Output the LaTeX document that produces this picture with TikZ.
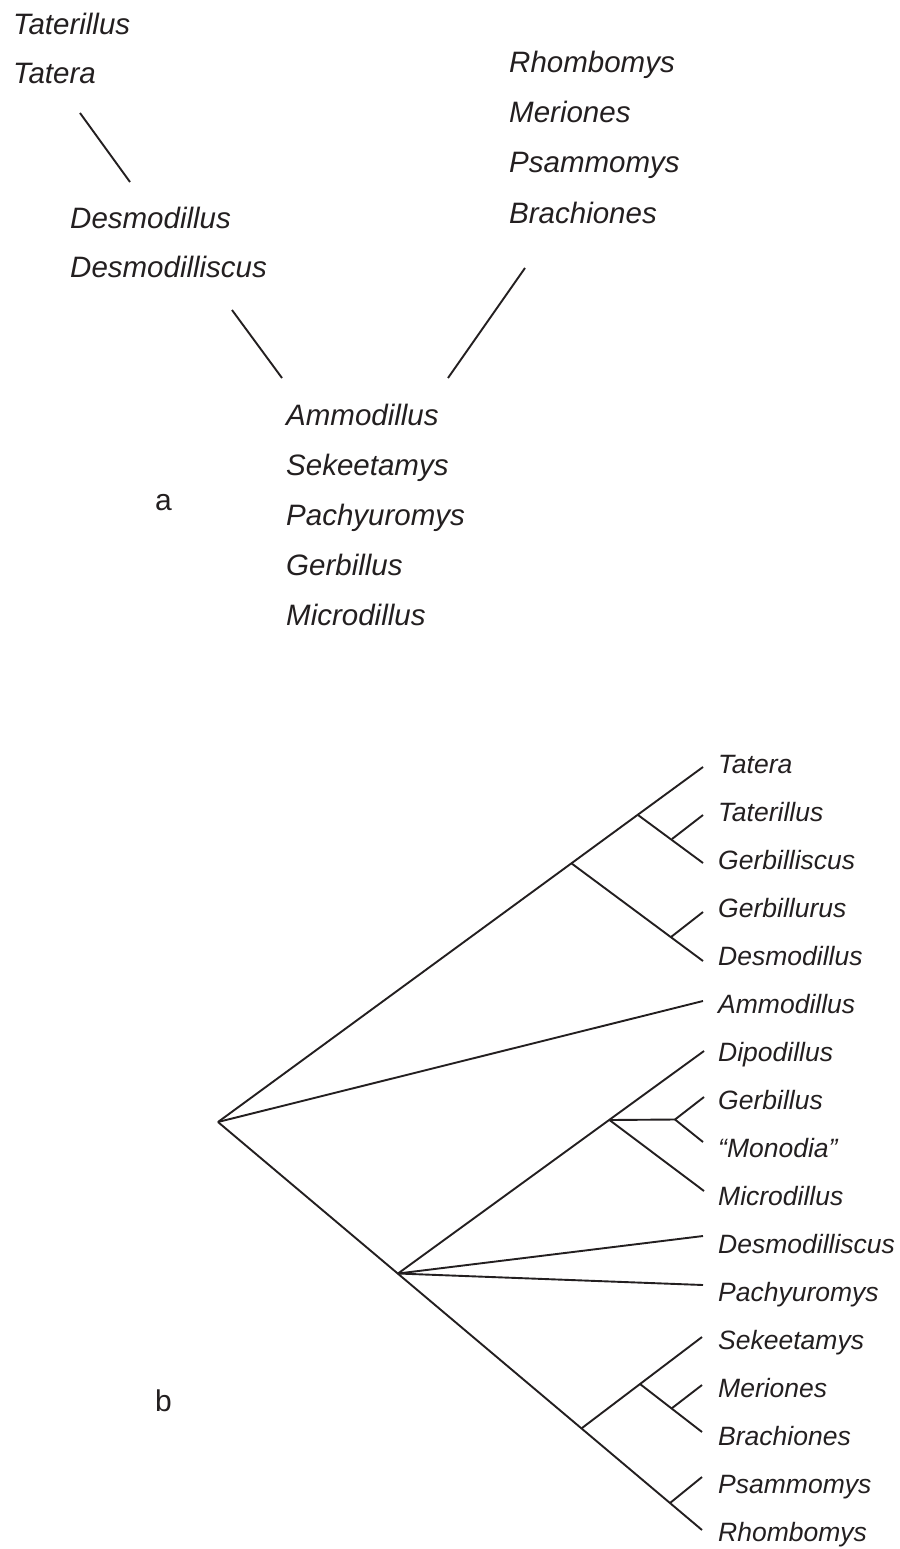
\documentclass[tikz,border=0pt]{standalone}
\usepackage{fontspec}
\setmainfont{Liberation Sans}
\definecolor{ink}{HTML}{231F20}
\begin{document}
\begin{tikzpicture}[x=1pt,y=-1pt,
  branch/.style={draw=ink, line width=1.9pt},
  taxa/.style={anchor=base west, inner sep=0pt, text=ink, font=\fontsize{29.5}{32}\selectfont\itshape},
  taxb/.style={anchor=base west, inner sep=0pt, text=ink, font=\fontsize{26.5}{30}\selectfont\itshape},
  panel/.style={anchor=base west, inner sep=0pt, text=ink, font=\fontsize{30}{32}\selectfont}]
\useasboundingbox (0,0) rectangle (899,1549);

% ---------- panel a: groups of genera ----------
\node[taxa] (a-taterillus) at (13,35) {Taterillus};
\node[taxa] (a-tatera) at (13,84) {Tatera};

\node[taxa] (a-desmodillus) at (70,229) {Desmodillus};
\node[taxa] (a-desmodilliscus) at (70,277) {Desmodilliscus};

\node[taxa] (a-rhombomys) at (509,73) {Rhombomys};
\node[taxa] (a-meriones) at (509,123) {Meriones};
\node[taxa] (a-psammomys) at (509,173) {Psammomys};
\node[taxa] (a-brachiones) at (509,223) {Brachiones};

\node[taxa] (a-ammodillus) at (286,425) {Ammodillus};
\node[taxa] (a-sekeetamys) at (286,475) {Sekeetamys};
\node[taxa] (a-pachyuromys) at (286,525) {Pachyuromys};
\node[taxa] (a-gerbillus) at (286,575) {Gerbillus};
\node[taxa] (a-microdillus) at (286,625) {Microdillus};

\node[panel] (label-a) at (155,510) {a};

% links between the groups
\coordinate (a1s) at (80,113);  \coordinate (a1e) at (130,182);
\coordinate (a2s) at (232,310); \coordinate (a2e) at (282,378);
\coordinate (a3s) at (525,268); \coordinate (a3e) at (448,378);
\draw[branch] (a1s) -- (a1e);
\draw[branch] (a2s) -- (a2e);
\draw[branch] (a3s) -- (a3e);

% ---------- panel b: tree ----------
\foreach \name/\txt [count=\i from 0] in {
  tatera/Tatera, taterillus/Taterillus, gerbilliscus/Gerbilliscus,
  gerbillurus/Gerbillurus, desmodillus/Desmodillus, ammodillus/Ammodillus,
  dipodillus/Dipodillus, gerbillus/Gerbillus, monodia/{``Monodia''},
  microdillus/Microdillus, desmodilliscus/Desmodilliscus,
  pachyuromys/Pachyuromys, sekeetamys/Sekeetamys, meriones/Meriones,
  brachiones/Brachiones, psammomys/Psammomys, rhombomys/Rhombomys}
  \node[taxb] (b-\name) at (718,{773+48.06*\i}) {\txt};

\node[panel] (label-b) at (155,1411) {b};

% tips
\coordinate (t-tatera) at (703,767);
\coordinate (t-taterillus) at (703,815);
\coordinate (t-gerbilliscus) at (703,863);
\coordinate (t-gerbillurus) at (703,912);
\coordinate (t-desmodillus) at (703,961);
\coordinate (t-ammodillus) at (703,1001);
\coordinate (t-dipodillus) at (704,1051);
\coordinate (t-gerbillus) at (704,1097);
\coordinate (t-monodia) at (703,1142);
\coordinate (t-microdillus) at (704,1191);
\coordinate (t-desmodilliscus) at (703,1236);
\coordinate (t-pachyuromys) at (703,1285);
\coordinate (t-sekeetamys) at (702,1337);
\coordinate (t-meriones) at (702,1385);
\coordinate (t-brachiones) at (702,1432);
\coordinate (t-psammomys) at (702,1477);
\coordinate (t-rhombomys) at (702,1530);

% internal nodes
\coordinate (root) at (218,1122);
\coordinate (n-tat) at (571,863);
\coordinate (n-tat2) at (638,815);
\coordinate (n-tat3) at (672,839);
\coordinate (n-gd) at (671,937);
\coordinate (n-pach) at (398,1273.5);
\coordinate (n-dip) at (609.5,1120);
\coordinate (n-gm) at (675,1119.5);
\coordinate (n-mer) at (582,1428);
\coordinate (n-sek) at (640,1384);
\coordinate (n-mb) at (671.5,1408.5);
\coordinate (n-pr) at (670,1503);

% branches
\draw[branch] (root) -- (t-tatera);
\draw[branch] (n-tat2) -- (t-gerbilliscus);
\draw[branch] (n-tat3) -- (t-taterillus);
\draw[branch] (n-tat) -- (t-desmodillus);
\draw[branch] (n-gd) -- (t-gerbillurus);
\draw[branch] (root) -- (t-ammodillus);
\draw[branch] (root) -- (t-rhombomys);
\draw[branch] (n-pach) -- (t-dipodillus);
\draw[branch] (n-dip) -- (t-microdillus);
\draw[branch] (n-dip) -- (n-gm);
\draw[branch] (n-gm) -- (t-gerbillus);
\draw[branch] (n-gm) -- (t-monodia);
\draw[branch] (n-pach) -- (t-desmodilliscus);
\draw[branch] (n-pach) -- (t-pachyuromys);
\draw[branch] (n-mer) -- (t-sekeetamys);
\draw[branch] (n-sek) -- (t-brachiones);
\draw[branch] (n-mb) -- (t-meriones);
\draw[branch] (n-pr) -- (t-psammomys);
\end{tikzpicture}
\end{document}
